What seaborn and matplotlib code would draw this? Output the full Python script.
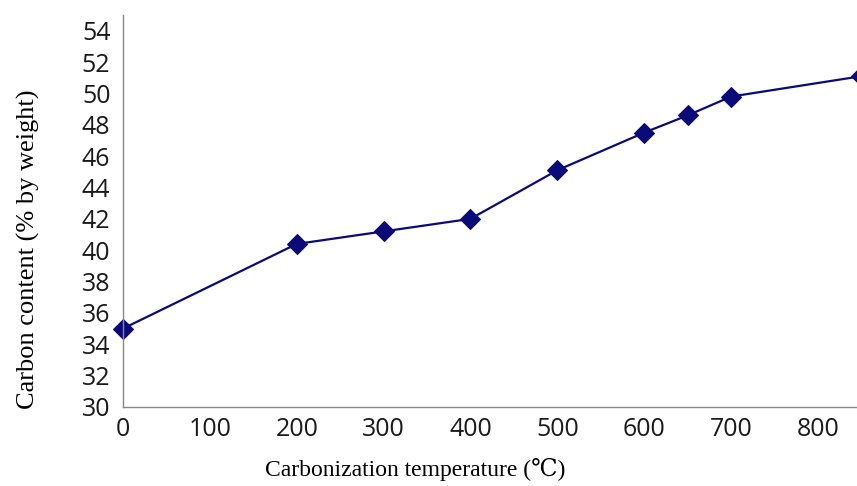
import matplotlib
matplotlib.use("Agg")
import matplotlib.pyplot as plt
import seaborn as sns
import pandas as pd

temperature = [0, 200, 300, 400, 500, 600, 650, 700, 850]
carbon = [35.0, 40.4, 41.2, 42.0, 45.1, 47.5, 48.6, 49.8, 51.1]
y_ticks = list(range(30, 55, 2))
x_ticks = list(range(0, 900, 100))

df = pd.DataFrame({'Temperature': temperature, 'Carbon': carbon})

sns.set_style('white')
plt.rcParams['font.family'] = ['Open Sans', 'DejaVu Sans']

fig = plt.figure(figsize=(8.57, 4.86), dpi=100)
ax = fig.add_axes([0.1435, 0.1626, 0.8565, 0.8064])

sns.lineplot(data=df, x='Temperature', y='Carbon', ax=ax, color='#0a0a78',
             linewidth=1.6, marker='D', markersize=10, markeredgecolor='#0a0a78',
             clip_on=False)

ax.set_xlim(0, 845)
ax.set_ylim(30, 55)
ax.set_xticks(x_ticks)
ax.set_yticks(y_ticks)
ax.tick_params(axis='both', labelsize=18, labelcolor='#1a1a1a', color='#888888',
               direction='out', length=8, width=0.9, pad=1)
ax.tick_params(axis='x', length=7, pad=0)
for s in ['top', 'right']:
    ax.spines[s].set_visible(False)
for s in ['left', 'bottom']:
    ax.spines[s].set_color('#888888')
    ax.spines[s].set_linewidth(1.0)

ax.set_xlabel('')
ax.set_ylabel('')
fig.text(0.484, 0.033, 'Carbonization temperature (\u2103)', ha='center', va='center',
         family=['Liberation Serif', 'DejaVu Serif'], fontsize=17, color='black')
fig.text(0.033, 0.488, 'Carbon content (% by weight)', ha='center', va='center',
         rotation=90, family=['Liberation Serif', 'DejaVu Serif'], fontsize=19,
         color='black')

fig.savefig('out.png', dpi=100)
